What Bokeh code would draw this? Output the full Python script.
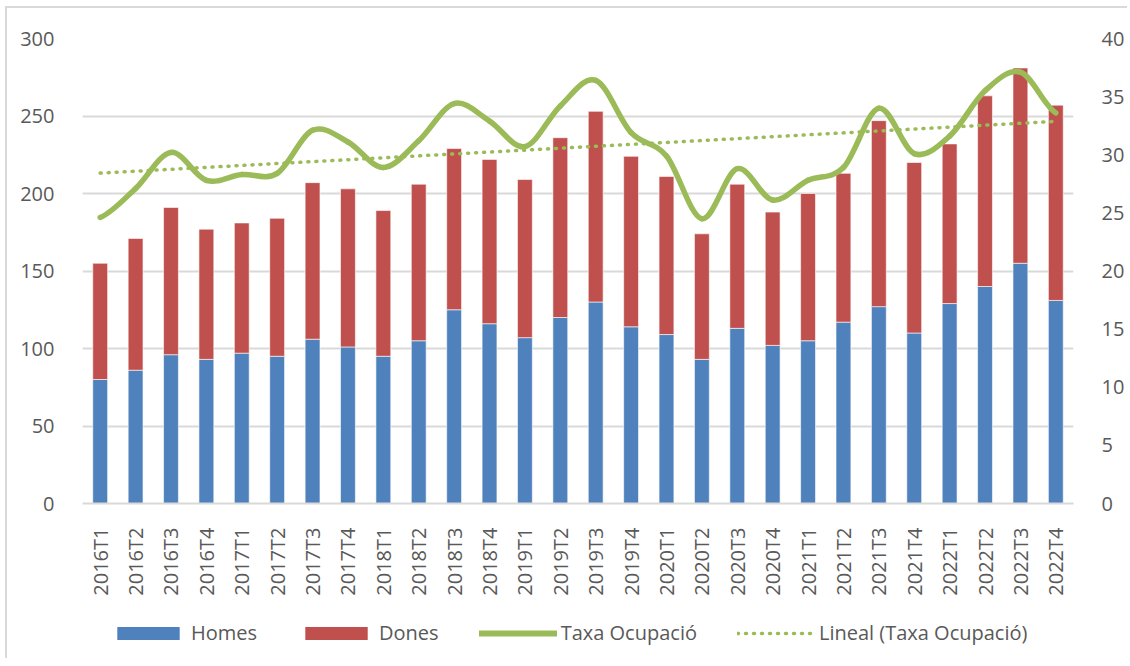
import numpy as np
from bokeh.plotting import figure
from bokeh.layouts import column
from bokeh.models import (FactorRange, Range1d, LinearAxis, SingleIntervalTicker,
                          ColumnDataSource, Legend, LegendItem)
from bokeh.embed import file_html
from bokeh.resources import INLINE

# ---- data ----
quarters = ["2016T1", "2016T2", "2016T3", "2016T4", "2017T1", "2017T2", "2017T3", "2017T4",
            "2018T1", "2018T2", "2018T3", "2018T4", "2019T1", "2019T2", "2019T3", "2019T4",
            "2020T1", "2020T2", "2020T3", "2020T4", "2021T1", "2021T2", "2021T3", "2021T4",
            "2022T1", "2022T2", "2022T3", "2022T4"]
homes = [80, 86, 96, 93, 97, 95, 106, 101, 95, 105, 125, 116, 107, 120, 130, 114,
         109, 93, 113, 102, 105, 117, 127, 110, 129, 140, 155, 131]
dones = [75, 85, 95, 84, 84, 89, 101, 102, 94, 101, 104, 106, 102, 116, 123, 110,
         102, 81, 93, 86, 95, 96, 120, 110, 103, 123, 126, 126]
taxa = [24.6, 27.1, 30.2, 27.8, 28.3, 28.4, 32.1, 31.1, 28.9, 31.2, 34.4, 32.9, 30.7, 34.2,
        36.4, 31.9, 29.9, 24.5, 28.8, 26.1, 27.8, 28.9, 34.0, 30.1, 31.6, 35.5, 37.1, 33.6]
series_names = ["Homes", "Dones", "Taxa Ocupació", "Lineal (Taxa Ocupació)"]

FONT = "Open Sans"
TXT = "#595959"
GRID = "#D9D9D9"
BLUE = "#4F81BD"
RED = "#C0504D"
GREEN = "#9BBB59"

p = figure(x_range=FactorRange(*quarters, range_padding=0), y_range=Range1d(0, 300),
           width=1120, height=600, output_backend="svg", toolbar_location=None,
           min_border_left=75, min_border_right=52, min_border_top=30, min_border_bottom=105)
p.extra_y_ranges = {"right": Range1d(0, 40)}
p.outline_line_color = None
p.background_fill_color = "white"
p.border_fill_color = "white"

src = ColumnDataSource(dict(q=quarters, Homes=homes, Dones=dones))
bars = p.vbar_stack(["Homes", "Dones"], x="q", width=0.42, source=src,
                    color=[BLUE, RED], line_color="white", line_width=0.6)

# smooth line (Catmull-Rom style bezier segments, like Excel smoothing)
xs = np.arange(len(taxa)) + 0.5
ys = np.array(taxa)
xe = np.concatenate([[2 * xs[0] - xs[1]], xs, [2 * xs[-1] - xs[-2]]])
ye = np.concatenate([[ys[0]], ys, [ys[-1]]])
n = len(xs) - 1
bz = dict(x0=xs[:-1], y0=ys[:-1], x1=xs[1:], y1=ys[1:],
          cx0=xs[:-1] + (xe[2:n + 2] - xe[0:n]) / 6.0,
          cy0=ys[:-1] + (ye[2:n + 2] - ye[0:n]) / 6.0,
          cx1=xs[1:] - (xe[3:n + 3] - xe[1:n + 1]) / 6.0,
          cy1=ys[1:] - (ye[3:n + 3] - ye[1:n + 1]) / 6.0)
smooth = p.bezier(source=ColumnDataSource(bz), x0="x0", y0="y0", x1="x1", y1="y1",
                  cx0="cx0", cy0="cy0", cx1="cx1", cy1="cy1",
                  line_color=GREEN, line_width=5.5, line_cap="round", y_range_name="right")

# linear trend
coef = np.polyfit(np.arange(len(taxa)), ys, 1)
trend_vals = np.polyval(coef, np.arange(len(taxa)))
trend = p.line(quarters, trend_vals, line_color=GREEN, line_width=3.5, line_dash="1 7",
               line_cap="round", y_range_name="right")

# axes
p.yaxis.ticker = SingleIntervalTicker(interval=50)
for ax in [p.yaxis[0]]:
    ax.axis_line_color = None
    ax.major_tick_line_color = None
    ax.minor_tick_line_color = None
    ax.major_label_standoff = 22
    ax.major_label_text_font = FONT
    ax.major_label_text_font_size = "20px"
    ax.major_label_text_color = TXT
rax = LinearAxis(y_range_name="right", ticker=SingleIntervalTicker(interval=5),
                 axis_line_color=None, major_tick_line_color=None, minor_tick_line_color=None,
                 major_label_standoff=22, major_label_text_font=FONT,
                 major_label_text_font_size="20px", major_label_text_color=TXT)
p.add_layout(rax, "right")

p.xaxis.axis_line_color = GRID
p.xaxis.axis_line_width = 2
p.xaxis.major_tick_line_color = None
p.xaxis.minor_tick_line_color = None
p.xaxis.major_label_orientation = np.pi / 2
p.xaxis.major_label_standoff = 18
p.xaxis.major_label_text_font = FONT
p.xaxis.major_label_text_font_size = "20px"
p.xaxis.major_label_text_color = TXT

p.xgrid.grid_line_color = None
p.ygrid.grid_line_color = GRID
p.ygrid.grid_line_width = 2

# ---- legend strip: same series, drawn in a strip whose y-range shows no data ----
lg = figure(width=1120, height=50, x_range=p.x_range, y_range=Range1d(1000, 1001),
            output_backend="svg", toolbar_location=None,
            min_border_left=0, min_border_right=0, min_border_top=0, min_border_bottom=0)
lg.axis.visible = False
lg.grid.visible = False
lg.outline_line_color = None
lg.background_fill_color = "white"
lg.border_fill_color = "white"
r1, r2 = lg.vbar_stack(["Homes", "Dones"], x="q", width=0.42, source=src,
                       color=[BLUE, RED], line_color=None)
r3 = lg.line(quarters, taxa, line_color=GREEN, line_width=6, line_cap="round")
r4 = lg.line(quarters, trend_vals, line_color=GREEN, line_width=3.5,
             line_dash="1 7", line_cap="round")
legend = Legend(items=[LegendItem(label=series_names[0], renderers=[r1]),
                       LegendItem(label=series_names[1], renderers=[r2]),
                       LegendItem(label=series_names[2], renderers=[r3]),
                       LegendItem(label=series_names[3], renderers=[r4])],
                orientation="horizontal", location=(27, 12),
                glyph_width=78, glyph_height=16, label_standoff=4, spacing=40,
                padding=0, margin=0, label_height=20,
                label_text_font=FONT, label_text_font_size="20px", label_text_color=TXT,
                background_fill_alpha=0, border_line_color=None)
lg.add_layout(legend, "center")

page = column(p, lg, spacing=0)
page.styles = {"margin-left": "5px", "margin-top": "6px",
               "border-left": "2px solid #D9D9D9", "border-top": "2px solid #D9D9D9"}

open("out.html", "w").write(file_html(page, INLINE))
